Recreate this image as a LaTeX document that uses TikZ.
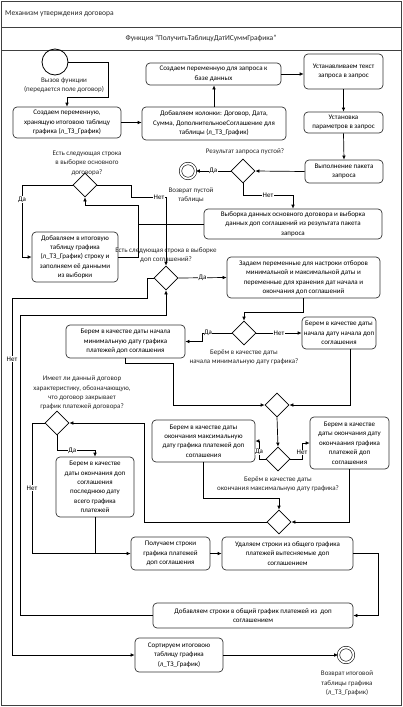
\documentclass[tikz,border=0pt]{standalone}
\usepackage{fontspec}
\setmainfont{Carlito}
\usetikzlibrary{shapes.geometric,arrows.meta}

\tikzstyle{act}=[draw=black!80,rounded corners=4pt,line width=0.7pt,align=center,inner sep=1pt,font=\fontsize{7}{9.4}\selectfont]
\tikzstyle{cond}=[diamond,draw,line width=0.7pt,minimum width=24,minimum height=24,inner sep=0pt]
\tikzstyle{note}=[align=center,inner sep=0pt,font=\fontsize{7}{9.4}\selectfont, text=black!85]
\tikzstyle{lbl}=[fill=white,inner sep=0.5pt,font=\fontsize{7}{8}\selectfont]
\tikzstyle{arr}=[line width=0.7pt,-{Latex[length=4pt,width=3.6pt]}]
\tikzstyle{ln}=[line width=0.7pt]

\begin{document}
\begin{tikzpicture}[x=1pt,y=-1pt]
        \useasboundingbox (0,0) rectangle (403,707);
        % frame
        \draw[line width=0.8pt,black!75] (1.5,1.5) rectangle (401.5,705.5);
        \draw[line width=0.8pt,black!75] (1.5,27) -- (401.5,27);
        \draw[line width=0.8pt,black!75] (1.5,50) -- (401.5,50);
        \draw (5,14) node[note,anchor=west,font=\fontsize{7.5}{9}\selectfont](title){Механизм утверждения договора};
        \draw (201,38.5) node[note,font=\fontsize{7.5}{9}\selectfont](func){Функция "ПолучитьТаблицуДатИСуммГрафика"};
        %
        \draw (55,62) node[circle,draw,line width=0.8pt,minimum size=26,inner sep=0pt](start){};
        \draw (64,85) node[note](startlbl){Вызов функции\\(передается поле договор)};
        \draw (67,122.5) node[act,minimum width=108,minimum height=31](b1){Создаем переменную,\\хранящую итоговою таблицу\\графика (л\_ТЗ\_График)};
        \draw (214,123.5) node[act,minimum width=144,minimum height=33](b2){Добавляем колонки: Договор, Дата,\\Сумма, ДополнительноеСоглашение для\\таблицы (л\_ТЗ\_График)};
        \draw (213.5,74) node[act,minimum width=135,minimum height=22](b3){Создаем переменную для запроса к\\базе данных};
        \draw (343.5,71.5) node[act,minimum width=79,minimum height=35](b4){Устанавливаем текст\\запроса в запрос};
        \draw (343.5,122.5) node[act,minimum width=79,minimum height=21](b5){Установка\\параметров в запрос};
        \draw (344,171.5) node[act,minimum width=78,minimum height=23](b6){Выполнение пакета\\запроса};
        \draw (243,171) node[cond](d1){};
        \draw (245,152) node[note](d1lbl){Результат запроса пустой?};
        \draw (188,171) node[circle,draw,line width=0.6pt,double,double distance=1.8pt,minimum size=15,inner sep=0pt](end1){};
        \draw (191,195.5) node[note](end1lbl){Возврат пустой\\таблицы};
        \draw (293,224) node[act,minimum width=178,minimum height=30](b7){Выборка данных основного договора и выборка\\данных доп соглашений из результата пакета\\запроса};
        \draw (85,185) node[cond](d2){};
        \draw (87,163) node[note](d2lbl){Есть следующая строка\\в выборке основного\\договора?};
        \draw (75,257) node[act,minimum width=86,minimum height=50](b8){Добавляем в итоговую\\таблицу графика\\(л\_ТЗ\_График) строку и\\заполняем её данными\\из выборки};
        \draw (166,278) node[cond](d3){};
        \draw (166,255) node[note](d3lbl){Есть следующая строка в выборке\\доп соглашений?};
        \draw (303.5,277.5) node[act,minimum width=153,minimum height=41](b9){Задаем переменные для настроки отборов\\минимальной и максимальной даты и\\переменные для хранения дат начала и\\окончания доп соглашений};
        \draw (244,333) node[cond](d4){};
        \draw (244,357) node[note](d4lbl){Берём в качестве даты\\начала минимальную дату графика?};
        \draw (125.5,341.5) node[act,minimum width=119,minimum height=33](b10){Берем в качестве даты начала\\минимальную дату графика\\платежей доп соглашения};
        \draw (339,333) node[act,minimum width=74,minimum height=32](b11){Берем в качестве даты\\начала дату начала доп\\соглашения};
        \draw (277,405) node[cond](d5){};
        \draw (278,459) node[cond](d6){};
        \draw (278,484) node[note](d6lbl){Берём в качестве даты\\окончания максимальную дату графика?};
        \draw (203.5,441) node[act,minimum width=103,minimum height=42](b12){Берем в качестве даты\\окончания максимальную\\дату графика платежей доп\\соглашения};
        \draw (349.5,443) node[act,minimum width=79,minimum height=52](b13){Берем в качестве\\даты окончания дату\\окончаания графика\\платежей доп\\соглашения};
        \draw (279,522) node[cond](d7){};
        \draw (57,423) node[cond](d8){};
        \draw (82,393) node[note](d8lbl){Имеет ли данный договор\\характеристику, обозначающую,\\что договор закрывает\\график платежей договора?};
        \draw (95,487) node[act,minimum width=78,minimum height=60](b14){Берем в качестве\\даты окончания доп\\соглашения\\последнюю дату\\всего графика\\платежей};
        \draw (170.5,553.5) node[act,minimum width=79,minimum height=33](b15){Получаем строки\\графика платежей\\доп соглашения};
        \draw (287.5,553.5) node[act,minimum width=131,minimum height=33](b16){Удаляем строки из общего графика\\платежей вытесняемые доп\\соглашением};
        \draw (253,615.5) node[act,minimum width=200,minimum height=25](b17){Добавляем строки в общий график платежей из\ \ доп\\соглашением};
        \draw (179,655) node[act,minimum width=88,minimum height=34](b18){Сортируем итоговою\\таблицу графика\\(л\_ТЗ\_График)};
        \draw (346,655) node[circle,draw,line width=0.6pt,double,double distance=1.8pt,minimum size=15,inner sep=0pt](end2){};
        \draw (347,683.5) node[note](end2lbl){Возврат итоговой\\таблицы графика\\(л\_ТЗ\_График)};
        \coordinate (j1) at (138,224);
        %
        \draw[arr] (start.east) -| (108,97) -| (b1.north);
        \draw[arr] (b1.east) -- (b1.east -| b2.west);
        \draw[arr] (b2.north) -- (b2.north |- b3.south);
        \draw[arr] (b3.east) -- (b3.east -| b4.west);
        \draw[arr] (b4.south) -- (b5.north);
        \draw[arr] (b5.south) -- (b6.north);
        \draw[arr] (b6.west) -- (d1.east);
        \draw[arr] (d1.west) -- node[lbl]{Да} (end1.east);
        \draw[arr] (d1.south) -- ++(0,12) -| node[lbl,pos=0.25]{Нет} (b7.north);
        \draw[ln] (b7.west) -- (j1);
        \draw[arr] (b8.east) -| (138,205) -| (d2.south);
        \draw[arr] (d2.west) -| node[lbl,pos=0.6]{Да} (22,257) -- (b8.west);
        \draw[arr] (d2.east) -| (131,197) -| node[lbl,pos=0.4]{Нет} (d3.north);
        \draw[arr] (d3.east) -- node[lbl]{Да} (b9.west);
        \draw[arr] (d3.west) -| (147,298) -| (12,655) -- (b18.west);
        \draw (12,359) node[lbl](netlbl){Нет};
        \draw[arr] (b9.south) -- ++(0,14) -| (d4.north);
        \draw[arr] (d4.west) -| node[lbl,pos=0.4]{Да} (202,341.5) -- (b10.east);
        \draw[arr] (d4.east) -- node[lbl]{Нет} (b11.west);
        \draw[arr] (b10.south) -- ++(0,5) -| (173,405) -- (d5.west);
        \draw[arr] ([xshift=11pt]b11.south) |- (d5.east);
        \draw[arr] (d5.south) -- (d6.north);
        \draw[arr] (d6.west) -| node[lbl,pos=0.7]{Да} (259,441) -- (b12.east);
        \draw[arr] (d6.east) -| node[lbl,pos=0.7]{Нет} (302,443) -- (b13.west);
        \draw[arr] (b12.south) -- ++(0,36) -| (d7.north);
        \draw[arr] (b13.south) |- (d7.east);
        \draw[arr] (d7.west) -| (144,423) -- (d8.east);
        \draw[arr] (d8.south) -- ++(0,15) -| node[lbl,pos=0.2]{Да} (b14.north);
        \draw[arr] (d8.west) -| node[lbl,pos=0.75]{Нет} (32,553.5) -- (b15.west);
        \draw[ln] (b14.south) -- (b14.south |- b15.west);
        \draw[arr] (b15.east) -- (b16.west);
        \draw[arr] (b16.east) -| (378,615.5) -- (b17.east);
        \draw[arr] (b17.west) -| (20,315) -| (d3.south);
        \draw[arr] (b18.east) -- (end2.west);
        %
      \end{tikzpicture}
\end{document}
